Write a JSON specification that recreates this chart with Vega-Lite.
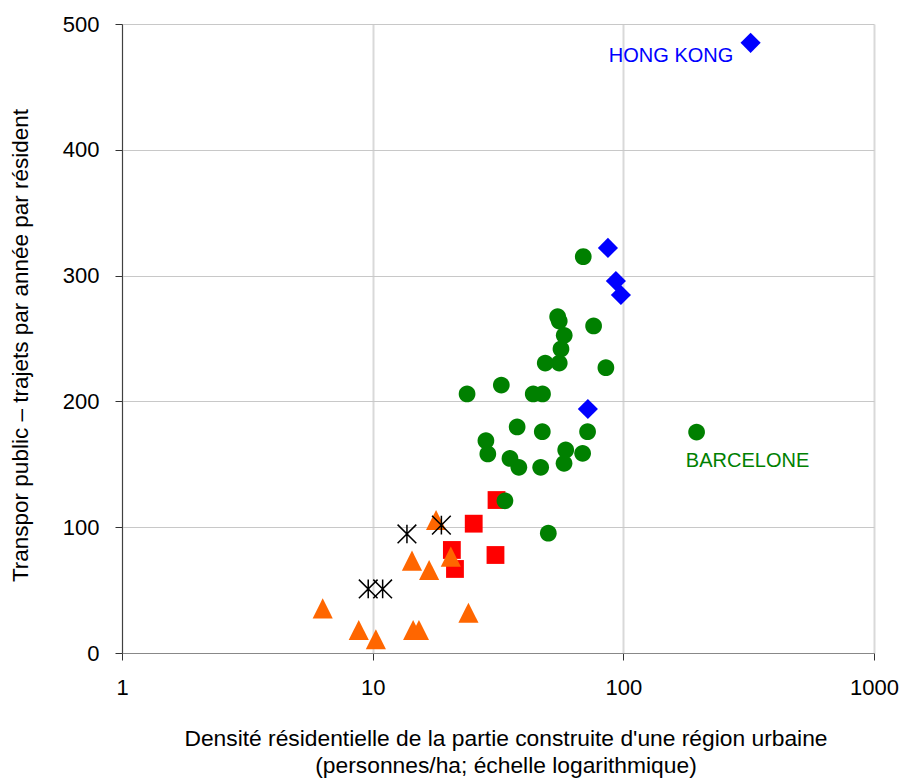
{
  "$schema": "https://vega.github.io/schema/vega-lite/v6.json",
  "width": 752,
  "height": 629,
  "autosize": {"type": "none"},
  "padding": {"left": 122, "top": 24, "right": 41, "bottom": 125},
  "background": "#ffffff",
  "config": {
    "font": "Liberation Sans",
    "view": {"stroke": null},
    "axis": {
      "labelFont": "Liberation Sans",
      "titleFont": "Liberation Sans",
      "labelColor": "#000000",
      "titleColor": "#000000",
      "titleFontWeight": "normal",
      "labelFlush": false,
      "labelOverlap": false,
      "labelBound": false
    }
  },
  "datasets": {
    "villes": [
      {"groupe": "Canada", "densite": 31.2, "trajets": 121.6},
      {"groupe": "Canada", "densite": 25.3, "trajets": 102.8},
      {"groupe": "Canada", "densite": 20.7, "trajets": 81.9},
      {"groupe": "Canada", "densite": 30.9, "trajets": 77.9},
      {"groupe": "Canada", "densite": 21.3, "trajets": 66.8},
      {"groupe": "Europe", "densite": 69.2, "trajets": 315},
      {"groupe": "Europe", "densite": 54.7, "trajets": 267.3},
      {"groupe": "Europe", "densite": 55.5, "trajets": 263.9},
      {"groupe": "Europe", "densite": 76.1, "trajets": 260},
      {"groupe": "Europe", "densite": 58.1, "trajets": 252.5},
      {"groupe": "Europe", "densite": 56.4, "trajets": 241.7},
      {"groupe": "Europe", "densite": 48.8, "trajets": 230.5},
      {"groupe": "Europe", "densite": 55.5, "trajets": 230.5},
      {"groupe": "Europe", "densite": 85.2, "trajets": 226.8},
      {"groupe": "Europe", "densite": 32.6, "trajets": 213},
      {"groupe": "Europe", "densite": 23.8, "trajets": 205.9},
      {"groupe": "Europe", "densite": 43.7, "trajets": 205.9},
      {"groupe": "Europe", "densite": 47.6, "trajets": 205.9},
      {"groupe": "Europe", "densite": 37.7, "trajets": 179.7},
      {"groupe": "Europe", "densite": 47.5, "trajets": 175.9},
      {"groupe": "Europe", "densite": 72.0, "trajets": 175.9},
      {"groupe": "Europe", "densite": 196, "trajets": 175.6},
      {"groupe": "Europe", "densite": 28.3, "trajets": 168.8},
      {"groupe": "Europe", "densite": 28.8, "trajets": 158.2},
      {"groupe": "Europe", "densite": 35.3, "trajets": 154.7},
      {"groupe": "Europe", "densite": 38.3, "trajets": 147.6},
      {"groupe": "Europe", "densite": 46.8, "trajets": 147.6},
      {"groupe": "Europe", "densite": 58.9, "trajets": 161.4},
      {"groupe": "Europe", "densite": 58.0, "trajets": 150.8},
      {"groupe": "Europe", "densite": 68.8, "trajets": 158.7},
      {"groupe": "Europe", "densite": 33.7, "trajets": 121},
      {"groupe": "Europe", "densite": 50.2, "trajets": 95.2},
      {"groupe": "États-Unis", "densite": 17.9, "trajets": 105.7},
      {"groupe": "États-Unis", "densite": 14.35, "trajets": 73.4},
      {"groupe": "États-Unis", "densite": 16.8, "trajets": 66},
      {"groupe": "États-Unis", "densite": 20.5, "trajets": 76.6},
      {"groupe": "États-Unis", "densite": 6.32, "trajets": 35.5},
      {"groupe": "États-Unis", "densite": 8.8, "trajets": 18.3},
      {"groupe": "États-Unis", "densite": 10.3, "trajets": 10.9},
      {"groupe": "États-Unis", "densite": 14.5, "trajets": 18.3},
      {"groupe": "États-Unis", "densite": 15.3, "trajets": 18.3},
      {"groupe": "États-Unis", "densite": 24.1, "trajets": 32},
      {"groupe": "Asie", "densite": 321.9, "trajets": 485},
      {"groupe": "Asie", "densite": 86.8, "trajets": 322},
      {"groupe": "Asie", "densite": 93.4, "trajets": 295.7},
      {"groupe": "Asie", "densite": 97.8, "trajets": 284.6},
      {"groupe": "Asie", "densite": 72.2, "trajets": 194},
      {"groupe": "Australie", "densite": 13.7, "trajets": 94.6},
      {"groupe": "Australie", "densite": 18.8, "trajets": 101.7},
      {"groupe": "Australie", "densite": 9.6, "trajets": 50.9},
      {"groupe": "Australie", "densite": 10.96, "trajets": 50.9}
    ],
    "etiquettes": [
      {"label": "HONG KONG", "densite": 155, "trajets": 469.6},
      {"label": "BARCELONE", "densite": 313, "trajets": 148}
    ]
  },
  "layer": [
    {
      "data": {"name": "villes"},
      "transform": [{"filter": "datum.groupe !== 'Australie'"}],
      "mark": {"type": "point", "filled": true, "opacity": 1, "size": 240},
      "encoding": {
        "x": {
          "field": "densite",
          "type": "quantitative",
          "scale": {"type": "log", "domain": [1, 1000], "nice": false},
          "axis": {
            "values": [1, 10, 100, 1000],
            "format": "d",
            "grid": true,
            "gridColor": "#d9d9d9",
            "gridWidth": 2,
            "domainColor": "#888888",
            "tickColor": "#333333",
            "tickSize": 7,
            "labelFontSize": 22,
            "labelPadding": 17,
            "title": ["Densité résidentielle de la partie construite d'une région urbaine", "(personnes/ha; échelle logarithmique)"],
            "titleFontSize": 22.8,
            "titleX": 383.5,
            "titleY": 92,
            "titleAlign": "center",
            "titleBaseline": "alphabetic",
            "titleLineHeight": 27
          }
        },
        "y": {
          "field": "trajets",
          "type": "quantitative",
          "scale": {"domain": [0, 500], "nice": false},
          "axis": {
            "values": [0, 100, 200, 300, 400, 500],
            "format": "d",
            "grid": true,
            "gridColor": "#c8c8c8",
            "gridWidth": 1,
            "domainColor": "#404040",
            "tickColor": "#333333",
            "tickSize": 7,
            "labelFontSize": 22,
            "labelPadding": 16,
            "title": "Transpor public – trajets par année par résident",
            "titleFontSize": 22.5,
            "titleX": -95,
            "titleY": 321,
            "titleAngle": -90,
            "titleAlign": "center",
            "titleBaseline": "alphabetic"
          }
        },
        "shape": {
          "field": "groupe",
          "type": "nominal",
          "scale": {
            "domain": ["Canada", "Europe", "États-Unis", "Asie"],
            "range": ["M-1.15,-1.15L1.15,-1.15L1.15,1.15L-1.15,1.15Z", "M1.08,0A1.08,1.08,0,1,1,-1.08,0A1.08,1.08,0,1,1,1.08,0Z", "M0,-1.3L1.3,1.3L-1.3,1.3Z", "M0,-1.3L1.3,0L0,1.3L-1.3,0Z"]
          },
          "legend": null
        },
        "color": {
          "field": "groupe",
          "type": "nominal",
          "scale": {
            "domain": ["Canada", "Europe", "États-Unis", "Asie"],
            "range": ["#ff0000", "#008000", "#ff6600", "#0000ff"]
          },
          "legend": null
        }
      }
    },
    {
      "data": {"name": "villes"},
      "transform": [{"filter": "datum.groupe === 'Australie'"}],
      "mark": {
        "type": "point",
        "filled": false,
        "shape": "M0,-1.1L0,1.1M-1.1,-1.1L1.1,1.1M-1.1,1.1L1.1,-1.1",
        "size": 289,
        "stroke": "#000000",
        "strokeWidth": 1.5,
        "opacity": 1
      },
      "encoding": {
        "x": {"field": "densite", "type": "quantitative"},
        "y": {"field": "trajets", "type": "quantitative"}
      }
    },
    {
      "data": {"name": "etiquettes"},
      "transform": [{"filter": "datum.label === 'HONG KONG'"}],
      "mark": {"type": "text", "align": "center", "baseline": "alphabetic", "fontSize": 20, "color": "#0000ff", "font": "Liberation Sans"},
      "encoding": {
        "x": {"field": "densite", "type": "quantitative"},
        "y": {"field": "trajets", "type": "quantitative"},
        "text": {"field": "label"}
      }
    },
    {
      "data": {"name": "etiquettes"},
      "transform": [{"filter": "datum.label === 'BARCELONE'"}],
      "mark": {"type": "text", "align": "center", "baseline": "alphabetic", "fontSize": 20, "color": "#008000", "font": "Liberation Sans"},
      "encoding": {
        "x": {"field": "densite", "type": "quantitative"},
        "y": {"field": "trajets", "type": "quantitative"},
        "text": {"field": "label"}
      }
    }
  ]
}
